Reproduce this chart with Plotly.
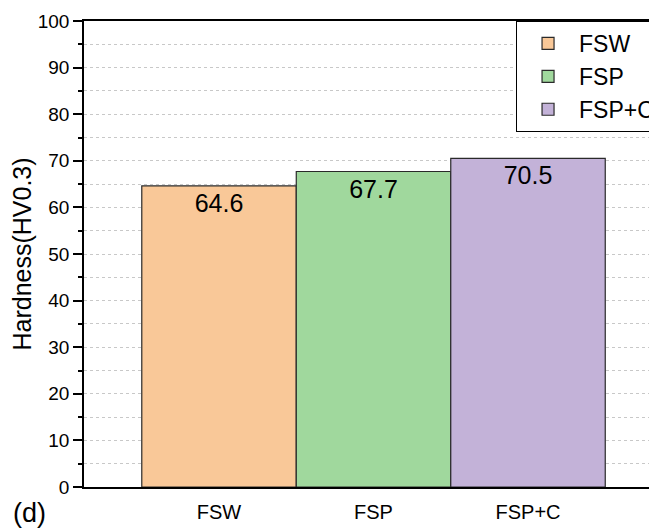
import plotly.graph_objects as go

categories = ["FSW", "FSP", "FSP+C"]
hardness = [64.6, 67.7, 70.5]
colors = ["#F9C898", "#A0D89D", "#C3B2D8"]
y_ticks = [0, 10, 20, 30, 40, 50, 60, 70, 80, 90, 100]

positions = list(range(len(categories)))
x_range = [-0.874, 2.835]
extra_ticks = [-0.874, 1.0, 2.874]

FONT = "Arial, Liberation Sans, sans-serif"

fig = go.Figure()
for i, (cat, val, col) in enumerate(zip(categories, hardness, colors)):
    fig.add_trace(go.Bar(
        x=[positions[i]], y=[val], name=cat, width=1.0,
        marker=dict(color=col, line=dict(color="#2a2a2a", width=1.2)),
        text=[f"{val:.1f}"], textposition="inside", insidetextanchor="end",
        textfont=dict(size=25, color="black", family=FONT),
        xaxis="x", yaxis="y",
    ))

# The page body has an 8px default margin; the figure is a bit wider than the
# window so the legend (clipped at the right edge, as in the reference) does
# not push the plot margins.
fig.update_layout(
    width=700, height=528,
    margin=dict(l=76, r=51, t=13, b=49),
    paper_bgcolor="white", plot_bgcolor="white",
    barmode="overlay",
    font=dict(family=FONT, color="black"),
    showlegend=True,
    legend=dict(
        x=0.754, y=1.0, xanchor="left", yanchor="top",
        bordercolor="black", borderwidth=1, bgcolor="white",
        font=dict(size=23), tracegroupgap=0, itemwidth=52,
    ),
    xaxis=dict(
        range=x_range, tickvals=positions, ticktext=categories,
        ticks="", showline=True, linecolor="black", linewidth=2,
        mirror=True, showgrid=False, zeroline=False, automargin=False,
        tickfont=dict(size=20), ticklabelstandoff=6,
    ),
    xaxis2=dict(
        range=x_range, overlaying="x", anchor="y", side="bottom",
        tickvals=extra_ticks, ticks="outside", ticklen=6, tickwidth=1.5,
        tickcolor="black", showticklabels=False, showline=False,
        showgrid=False, zeroline=False, automargin=False,
    ),
    yaxis=dict(
        range=[0, 100], tickvals=y_ticks, ticks="outside", ticklen=9,
        tickwidth=1.5, tickcolor="black",
        showline=True, linecolor="black", linewidth=1.5,
        showgrid=False, zeroline=False, automargin=False,
        tickfont=dict(size=19),
        title=dict(text="Hardness(HV0.3)", font=dict(size=25), standoff=8),
        minor=dict(dtick=5, ticks="outside", ticklen=4, tickwidth=1.5,
                   tickcolor="black", showgrid=True, gridcolor="#c8c8c8",
                   griddash="dot", gridwidth=1),
    ),
    annotations=[dict(
        text="(d)", xref="paper", yref="paper", x=-0.127, y=-0.056,
        xanchor="left", yanchor="middle", showarrow=False,
        font=dict(size=27),
    )],
)

fig.write_html(
    "out.html",
    config={"displayModeBar": False},
    post_script="document.documentElement.style.overflow='hidden';"
                "document.body.style.overflow='hidden';",
)
